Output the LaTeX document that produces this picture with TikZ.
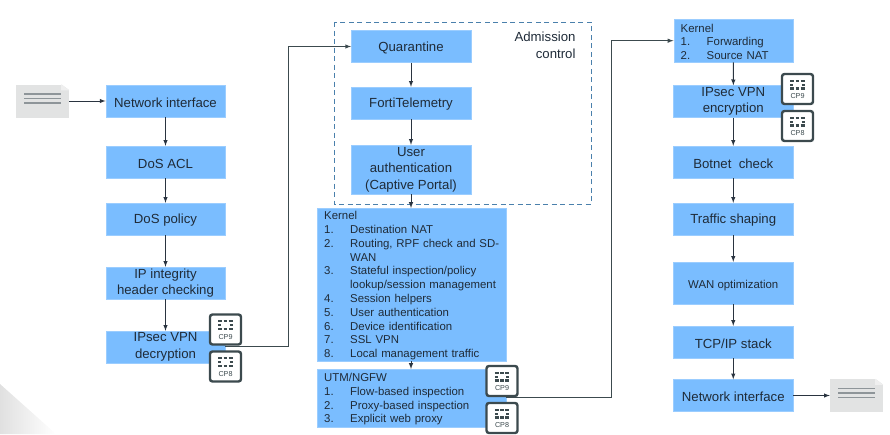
\documentclass[tikz,border=0pt]{standalone}
\usepackage{fontspec}
\setmainfont{Liberation Sans}
\definecolor{boxblue}{HTML}{7ABDFF}
\definecolor{inkdark}{HTML}{1F2B38}
\definecolor{linedark}{HTML}{2A3440}
\definecolor{chipdark}{HTML}{3C4A4E}
\definecolor{dashblue}{HTML}{4A80AC}
\definecolor{docgrey}{HTML}{E2E3E3}
\definecolor{docfold}{HTML}{EFEFEF}
\definecolor{docline}{HTML}{8E9599}
\tikzstyle{basebox}=[rectangle, fill=boxblue, draw=boxblue!75!white, line width=0.4pt, text=inkdark, inner sep=0pt, minimum width=119.5pt, minimum height=32pt]
\tikzstyle{blockbox}=[basebox, align=center, font=\fontsize{13.2}{16.5}\selectfont, execute at begin node={\rule{0pt}{12.5pt}}]
\tikzstyle{tallbox}=[basebox, align=center, font=\fontsize{13.2}{16.5}\selectfont, execute at begin node={\rule{0pt}{16.5pt}}]
\tikzstyle{listbox}=[basebox, align=left, anchor=north west, inner xsep=7pt, font=\fontsize{11.4}{13.8}\selectfont, execute at begin node={\rule{0pt}{10.5pt}}]
\tikzstyle{docicon}=[rectangle, fill=docgrey, inner sep=0pt, minimum width=53pt, minimum height=33pt]
\tikzstyle{chipbox}=[rectangle, rounded corners=2.5pt, fill=white, draw=chipdark, line width=2.4pt, inner sep=0pt, minimum width=31pt, minimum height=30pt]
\tikzstyle{flow}=[-latex, linedark, line width=1pt]
\tikzstyle{routed}=[-latex, chipdark, line width=1pt]
\newcommand{\itm}[2]{\makebox[26pt][l]{#1}#2}
\newcommand{\itmcont}[1]{\hspace*{26pt}#1}

\begin{document}
\begin{tikzpicture}[x=1pt, y=-1pt]
\useasboundingbox (0,0) rectangle (890,434);
% Corner shade
    \shade[left color=black!12, right color=white] (0,384) -- (56,434) -- (0,434) -- cycle;
% Admission frame
    \draw[dashblue, line width=1pt, dash pattern=on 5pt off 3.5pt] (334,22) rectangle (591,204);
    \node[align=right, anchor=east, text=inkdark, font=\fontsize{13.2}{16.5}\selectfont] (admission) at (579,45.5) {Admission\\control};
% Left column
    \node[blockbox] (netin) at (165.5,101) {Network interface};
    \node[blockbox] (dosacl) at (165.5,162) {DoS ACL};
    \node[blockbox] (dospolicy) at (165.5,219) {DoS policy};
    \node[tallbox] (ipcheck) at (165.5,283) {IP integrity\\header checking};
    \node[tallbox] (ipsecdec) at (165.5,347) {IPsec VPN\\decryption};
% Middle column
    \node[blockbox] (quarantine) at (411,46.5) {Quarantine};
    \node[blockbox] (telemetry) at (411,103) {FortiTelemetry};
    \node[tallbox, minimum height=49pt] (userauth) at (411,169.5) {User\\authentication\\(Captive Portal)};
    \node[listbox, text width=175pt, minimum height=153pt] (kernelin) at (317,208) {Kernel\\
        \itm{1.}{Destination NAT}\\
        \itm{2.}{Routing, RPF check and SD-}\\
        \itmcont{WAN}\\
        \itm{3.}{Stateful inspection/policy}\\
        \itmcont{lookup/session management}\\
        \itm{4.}{Session helpers}\\
        \itm{5.}{User authentication}\\
        \itm{6.}{Device identification}\\
        \itm{7.}{SSL VPN}\\
        \itm{8.}{Local management traffic}};
    \node[listbox, text width=175pt, minimum height=58pt] (utm) at (317,369) {UTM/NGFW\\
        \itm{1.}{Flow-based inspection}\\
        \itm{2.}{Proxy-based inspection}\\
        \itm{3.}{Explicit web proxy}};
% Right column
    \node[listbox, text width=105.5pt, minimum height=43pt] (kernelout) at (673.5,19) {Kernel\\
        \itm{1.}{Forwarding}\\
        \itm{2.}{Source NAT}};
    \node[tallbox] (ipsecenc) at (733.25,101.5) {IPsec VPN\\encryption};
    \node[blockbox] (botnet) at (733.25,162) {Botnet\ \ check};
    \node[blockbox] (shaping) at (733.25,219) {Traffic shaping};
    \node[blockbox, minimum height=42pt, font=\fontsize{11.4}{13.8}\selectfont] (wanopt) at (733.25,283) {WAN optimization};
    \node[blockbox] (tcpip) at (733.25,342) {TCP/IP stack};
    \node[blockbox] (netout) at (733.25,395.5) {Network interface};
% Packets
    \node[docicon] (docin) at (42.5,101) {};
    \node[docicon] (docout) at (856.5,395.5) {};
    \foreach \docname in {docin, docout} {
        \fill[white] (\docname.north east) ++(-8,-0.2) -- ++(8.2,0) -- ++(0,6) -- cycle;
        \fill[docfold] (\docname.north east) ++(-8,0) -- ++(8,6) -- ++(-8,0) -- cycle;
        \foreach \rowy in {7,2.5,-2}
            \draw[docline, line width=1.5pt] ([xshift=-18.5pt, yshift=\rowy pt]\docname.center) -- ([xshift=18.5pt, yshift=\rowy pt]\docname.center);
    }
% Flow
    \draw[flow] (docin) -- (netin);
    \draw[flow] (netin) -- (dosacl);
    \draw[flow] (dosacl) -- (dospolicy);
    \draw[flow] (dospolicy) -- (ipcheck);
    \draw[flow] (ipcheck) -- (ipsecdec);
    \draw[flow] (quarantine) -- (telemetry);
    \draw[flow] (telemetry) -- (userauth);
    \draw[flow] (userauth) -- (userauth |- kernelin.north);
    \draw[flow] (kernelin.south -| userauth) -- (userauth |- utm.north);
    \draw[flow] (kernelout.south) -- (ipsecenc);
    \draw[flow] (ipsecenc) -- (botnet);
    \draw[flow] (botnet) -- (shaping);
    \draw[flow] (shaping) -- (wanopt);
    \draw[flow] (wanopt) -- (tcpip);
    \draw[flow] (tcpip) -- (netout);
    \draw[flow] (netout) -- (docout);
% Long links
    \coordinate (turnleft) at (288,346);
    \coordinate (turnright) at (611,397);
    \draw[routed] (ipsecdec.east |- turnleft) -- (turnleft) |- (quarantine.west);
    \draw[routed] (utm.east |- turnright) -- (turnright) |- (kernelout.west);
% Chips
    \foreach \chipname/\chipx/\chipy/\chiplabel in {chipa/225.5/329.5/CP9, chipb/225.5/366.5/CP8, chipc/502/381/CP9, chipd/502/418/CP8, chipe/797.5/89/CP9, chipf/797.5/126/CP8} {
        \node[chipbox] (\chipname) at (\chipx,\chipy) {};
        \node[text=chipdark, inner sep=0pt, font=\fontsize{7.2}{8}\selectfont] (\chipname text) at ([yshift=-7.5pt]\chipname.center) {\chiplabel};
        \begin{scope}[shift={(\chipname.center)}, chipdark, line width=2.2pt]
            \draw (-7.2,-8.2) -- (-3.2,-8.2) (-1.8,-8.2) -- (1.8,-8.2) (3.2,-8.2) -- (7.2,-8.2);
            \draw (-7.2,-4.4) -- (-4.2,-4.4) (4.2,-4.4) -- (7.2,-4.4);
            \draw (-7.2,-0.6) -- (-3.2,-0.6) (-1.8,-0.6) -- (1.8,-0.6) (3.2,-0.6) -- (7.2,-0.6);
        \end{scope}
    }
\end{tikzpicture}
\end{document}
